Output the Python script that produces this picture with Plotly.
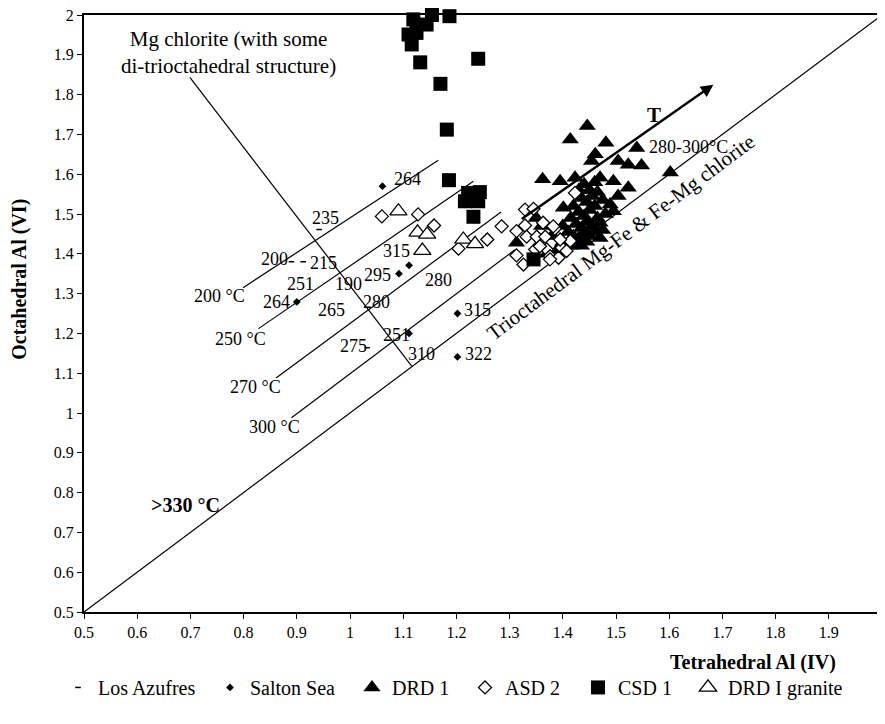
import plotly.graph_objects as go

# ---------------- data ----------------
los_x = [0.942, 0.890, 0.912, 1.032]
los_y = [1.461, 1.380, 1.380, 1.164]

salton_x = [1.061, 0.900, 1.092, 1.111, 1.202, 1.111, 1.202]
salton_y = [1.570, 1.279, 1.350, 1.371, 1.250, 1.200, 1.141]

drd1_x = [1.446, 1.414, 1.481, 1.539, 1.461, 1.454, 1.504, 1.523, 1.548, 1.602,
          1.362, 1.395, 1.423, 1.470, 1.495, 1.523, 1.504, 1.401, 1.489, 1.495,
          1.470, 1.313, 1.430, 1.440, 1.450, 1.460, 1.435, 1.445, 1.455, 1.465,
          1.420, 1.430, 1.440, 1.450, 1.460, 1.475, 1.415, 1.425, 1.435, 1.445,
          1.455, 1.465, 1.480, 1.410, 1.420, 1.430, 1.440, 1.450, 1.460, 1.400,
          1.415, 1.425, 1.435, 1.445, 1.390, 1.370, 1.380, 1.360, 1.350, 1.470,
          1.400, 1.475]
drd1_y = [1.721, 1.687, 1.679, 1.666, 1.650, 1.633, 1.633, 1.624, 1.622, 1.604,
          1.587, 1.582, 1.591, 1.591, 1.582, 1.566, 1.545, 1.516, 1.524, 1.507,
          1.478, 1.428, 1.560, 1.575, 1.560, 1.580, 1.540, 1.530, 1.545, 1.555,
          1.520, 1.505, 1.495, 1.510, 1.520, 1.535, 1.490, 1.475, 1.465, 1.480,
          1.470, 1.490, 1.500, 1.455, 1.445, 1.440, 1.450, 1.445, 1.455, 1.430,
          1.420, 1.430, 1.420, 1.430, 1.410, 1.400, 1.445, 1.470, 1.490, 1.440,
          1.470, 1.460]

asd2_x = [1.060, 1.128, 1.158, 1.204, 1.258, 1.285, 1.329, 1.345, 1.313, 1.329,
          1.363, 1.385, 1.332, 1.351, 1.367, 1.313, 1.326, 1.348, 1.370, 1.376,
          1.392, 1.398, 1.414, 1.423, 1.395, 1.382, 1.357, 1.407, 1.376]
asd2_y = [1.494, 1.499, 1.471, 1.413, 1.436, 1.469, 1.511, 1.513, 1.457, 1.471,
          1.478, 1.463, 1.443, 1.443, 1.443, 1.396, 1.373, 1.411, 1.411, 1.394,
          1.390, 1.415, 1.432, 1.553, 1.436, 1.469, 1.419, 1.407, 1.386]

csd1_x = [1.119, 1.154, 1.187, 1.144, 1.110, 1.125, 1.116, 1.132, 1.241, 1.170,
          1.182, 1.186, 1.222, 1.244, 1.216, 1.241, 1.232, 1.345]
csd1_y = [1.989, 2.000, 1.997, 1.976, 1.951, 1.955, 1.926, 1.881, 1.890, 1.827,
          1.712, 1.585, 1.553, 1.555, 1.532, 1.532, 1.493, 1.386]

gran_x = [1.091, 1.127, 1.145, 1.136, 1.213, 1.235]
gran_y = [1.507, 1.454, 1.449, 1.408, 1.436, 1.425]

# reference lines (x pairs, y pairs)
iso_names = ["200 °C", "250 °C", "270 °C", "300 °C"]
iso_x = [[0.799, 1.166], [0.828, 1.232], [0.861, 1.284], [0.890, 1.310]]
iso_y = [[1.315, 1.635], [1.212, 1.582], [1.088, 1.505], [0.988, 1.410]]
iso_label_x = [0.754, 0.794, 0.823, 0.859]
iso_label_y = [1.293, 1.187, 1.065, 0.965]

one_x = [0.5, 2.0]
one_y = [0.5, 2.0]
mg_x = [0.699, 1.116]
mg_y = [1.843, 1.118]
arrow_x = [1.320, 1.683]
arrow_y = [1.485, 1.825]

# temperature point labels
lab_text = ["264", "235", "200", "215", "251", "190", "264", "265", "280", "315",
            "295", "280", "315", "251", "275", "310", "322"]
lab_x = [1.108, 0.954, 0.859, 0.951, 0.907, 0.997, 0.862, 0.966, 1.050, 1.088,
         1.051, 1.166, 1.239, 1.088, 1.006, 1.135, 1.241]
lab_y = [1.587, 1.489, 1.387, 1.376, 1.323, 1.325, 1.278, 1.258, 1.279, 1.407,
         1.348, 1.334, 1.258, 1.197, 1.168, 1.147, 1.147]

tick_vals = [0.5, 0.6, 0.7, 0.8, 0.9, 1.0, 1.1, 1.2, 1.3, 1.4, 1.5, 1.6, 1.7, 1.8, 1.9, 2.0]
tick_text = ["0.5", "0.6", "0.7", "0.8", "0.9", "1", "1.1", "1.2", "1.3", "1.4", "1.5",
             "1.6", "1.7", "1.8", "1.9", "2"]

FONT = "Liberation Serif, Times New Roman, serif"

W, H = 877, 693
ML, MR, MT = 76, 3, 7
PH = 597.5
MB = H - MT - PH
PW = W - ML - MR
# screen position of plot-area corner (page has an 8px body margin)
SX0, SY0 = ML + 8, H - MB + 8


def px_to_paper(px, py):
    return (px - SX0) / PW, (SY0 - py) / PH


# ---------------- figure ----------------
fig = go.Figure()

line_style = dict(color="black", width=1.2)
fig.add_trace(go.Scatter(x=one_x, y=one_y, mode="lines", line=line_style,
                         showlegend=False, hoverinfo="skip", cliponaxis=False))
fig.add_trace(go.Scatter(x=mg_x, y=mg_y, mode="lines", line=line_style,
                         showlegend=False, hoverinfo="skip"))
for xs, ys in zip(iso_x, iso_y):
    fig.add_trace(go.Scatter(x=xs, y=ys, mode="lines", line=line_style,
                             showlegend=False, hoverinfo="skip"))

series = [
    ("Los Azufres", los_x, los_y, dict(symbol="line-ew", size=4, color="black",
                                        line=dict(color="black", width=1.5))),
    ("Salton Sea", salton_x, salton_y, dict(symbol="diamond", size=6, color="black")),
    ("DRD 1", drd1_x, drd1_y, dict(symbol="triangle-up", size=15, color="black")),
    ("ASD 2", asd2_x, asd2_y, dict(symbol="diamond", size=10, color="white",
                                   line=dict(color="black", width=1.3))),
    ("CSD 1", csd1_x, csd1_y, dict(symbol="square", size=14, color="black")),
    ("DRD I granite", gran_x, gran_y, dict(symbol="triangle-up", size=15, color="white",
                                           line=dict(color="black", width=1.3))),
]
legend_text_start = [98, 250, 392, 505, 618, 728]
legend_names = ["legend", "legend2", "legend3", "legend4", "legend5", "legend6"]

for (name, xs, ys, mk), lg in zip(series, legend_names):
    fig.add_trace(go.Scatter(x=xs, y=ys, mode="markers", name=name, marker=mk,
                             cliponaxis=False, legend=lg))

annotations = []
for t, x, y in zip(lab_text, lab_x, lab_y):
    annotations.append(dict(x=x, y=y, xref="x", yref="y", text=t, showarrow=False,
                            xanchor="center", yanchor="middle",
                            font=dict(family=FONT, size=18, color="black")))
for t, x, y in zip(iso_names, iso_label_x, iso_label_y):
    annotations.append(dict(x=x, y=y, xref="x", yref="y", text=t, showarrow=False,
                            xanchor="center", yanchor="middle",
                            font=dict(family=FONT, size=18, color="black")))

tx, ty = px_to_paper(753, 663)
yx, yy = px_to_paper(20, 280)
annotations += [
    dict(x=0.771, y=1.907, xref="x", yref="y", showarrow=False,
         xanchor="center", yanchor="middle",
         text="Mg chlorite (with some<br>di-trioctahedral structure)",
         font=dict(family=FONT, size=21, color="black")),
    dict(x=0.690, y=0.768, xref="x", yref="y", showarrow=False, text="<b>>330 °C</b>",
         xanchor="center", yanchor="middle",
         font=dict(family=FONT, size=20, color="black")),
    dict(x=1.571, y=1.750, xref="x", yref="y", showarrow=False, text="<b>T</b>",
         xanchor="center", yanchor="middle",
         font=dict(family=FONT, size=21, color="black")),
    dict(x=1.637, y=1.668, xref="x", yref="y", showarrow=False, text="280-300°C",
         xanchor="center", yanchor="middle",
         font=dict(family=FONT, size=18, color="black")),
    dict(x=1.510, y=1.441, xref="x", yref="y", showarrow=False, textangle=-36.8,
         xanchor="center", yanchor="middle",
         text="Trioctahedral Mg-Fe & Fe-Mg chlorite",
         font=dict(family=FONT, size=21, color="black")),
    dict(x=arrow_x[1], y=arrow_y[1], ax=arrow_x[0], ay=arrow_y[0],
         xref="x", yref="y", axref="x", ayref="y", text="", showarrow=True,
         arrowhead=2, arrowsize=1, arrowwidth=2.5, arrowcolor="black"),
    dict(x=tx, y=ty, xref="paper", yref="paper", text="<b>Tetrahedral Al (IV)</b>",
         xanchor="center", yanchor="middle",
         showarrow=False, font=dict(family=FONT, size=20, color="black")),
    dict(x=yx, y=yy, xref="paper", yref="paper", text="<b>Octahedral Al (VI)</b>",
         xanchor="center", yanchor="middle",
         textangle=-90, showarrow=False, font=dict(family=FONT, size=20, color="black")),
]

layout = dict(
    width=W, height=H,
    margin=dict(l=ML, r=MR, t=MT, b=MB, autoexpand=False),
    paper_bgcolor="white", plot_bgcolor="white",
    font=dict(family=FONT, size=16, color="black"),
    showlegend=True,
    annotations=annotations,
)
for lg, ts in zip(legend_names, legend_text_start):
    lx, ly = px_to_paper(ts - 40, 688)
    layout[lg] = dict(orientation="h", x=lx, y=ly, xanchor="left", yanchor="middle",
                      font=dict(family=FONT, size=20, color="black"),
                      itemwidth=30, bgcolor="rgba(0,0,0,0)", borderwidth=0)
fig.update_layout(**layout)

fig.update_xaxes(range=[0.5, 2.0], tickvals=tick_vals, ticktext=tick_text,
                 showgrid=False, zeroline=False, showline=True, linecolor="black",
                 linewidth=2, mirror=True, ticks="outside", ticklen=5, tickwidth=1,
                 tickcolor="black", automargin=False, ticklabeloverflow="allow",
                 tickfont=dict(family=FONT, size=16, color="black"))
fig.update_yaxes(range=[0.5, 2.0], tickvals=tick_vals, ticktext=tick_text,
                 showgrid=False, zeroline=False, showline=True, linecolor="black",
                 linewidth=2, ticks="outside", ticklen=5, tickwidth=1,
                 tickcolor="black", automargin=False, ticklabeloverflow="allow",
                 tickfont=dict(family=FONT, size=16, color="black"))

fig.write_html("out.html")
